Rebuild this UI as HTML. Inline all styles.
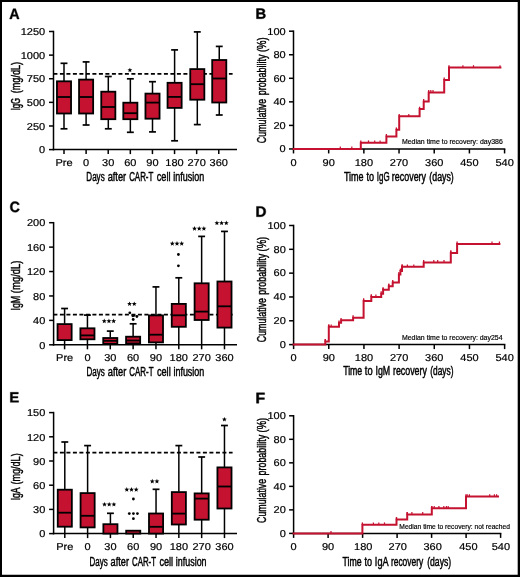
<!DOCTYPE html><html><head><meta charset="utf-8"><style>html,body{margin:0;padding:0;background:#fff}svg{display:block;will-change:transform}text{font-family:"Liberation Sans",sans-serif;fill:#000}</style></head><body>
<svg width="520" height="577" viewBox="0 0 520 577">
<rect x="0" y="0" width="520" height="577" fill="#fff"/>
<path transform="translate(9.244,19.000) scale(0.006987,-0.007310)" d="M1133 0 1008 360H471L346 0H51L565 1409H913L1425 0ZM739 1192 733 1170Q723 1134 709.0 1088.0Q695 1042 537 582H942L803 987L760 1123Z" fill="#000" stroke="#000" stroke-width="0.4" vector-effect="non-scaling-stroke"/>
<line x1="53.50" y1="30.75" x2="53.50" y2="150.35" stroke="#000" stroke-width="1.5" />
<line x1="49.00" y1="149.60" x2="53.50" y2="149.60" stroke="#000" stroke-width="1.5" />
<text transform="translate(45.20,153.30) scale(1.1,1)" font-size="10" text-anchor="end" font-weight="normal" stroke="#000" stroke-width="0.2" text-rendering="geometricPrecision">0</text>
<line x1="49.00" y1="125.98" x2="53.50" y2="125.98" stroke="#000" stroke-width="1.5" />
<text transform="translate(45.20,129.68) scale(1.1,1)" font-size="10" text-anchor="end" font-weight="normal" stroke="#000" stroke-width="0.2" text-rendering="geometricPrecision">250</text>
<line x1="49.00" y1="102.36" x2="53.50" y2="102.36" stroke="#000" stroke-width="1.5" />
<text transform="translate(45.20,106.06) scale(1.1,1)" font-size="10" text-anchor="end" font-weight="normal" stroke="#000" stroke-width="0.2" text-rendering="geometricPrecision">500</text>
<line x1="49.00" y1="78.74" x2="53.50" y2="78.74" stroke="#000" stroke-width="1.5" />
<text transform="translate(45.20,82.44) scale(1.1,1)" font-size="10" text-anchor="end" font-weight="normal" stroke="#000" stroke-width="0.2" text-rendering="geometricPrecision">750</text>
<line x1="49.00" y1="55.12" x2="53.50" y2="55.12" stroke="#000" stroke-width="1.5" />
<text transform="translate(45.20,58.82) scale(1.1,1)" font-size="10" text-anchor="end" font-weight="normal" stroke="#000" stroke-width="0.2" text-rendering="geometricPrecision">1000</text>
<line x1="49.00" y1="31.50" x2="53.50" y2="31.50" stroke="#000" stroke-width="1.5" />
<text transform="translate(45.20,35.20) scale(1.1,1)" font-size="10" text-anchor="end" font-weight="normal" stroke="#000" stroke-width="0.2" text-rendering="geometricPrecision">1250</text>
<line x1="52.75" y1="149.60" x2="237.00" y2="149.60" stroke="#000" stroke-width="1.5" />
<line x1="64.00" y1="149.60" x2="64.00" y2="154.10" stroke="#000" stroke-width="1.5" />
<text transform="translate(64.00,166.00) scale(1.1,1)" font-size="10" text-anchor="middle" font-weight="normal" stroke="#000" stroke-width="0.2" text-rendering="geometricPrecision">Pre</text>
<line x1="86.11" y1="149.60" x2="86.11" y2="154.10" stroke="#000" stroke-width="1.5" />
<text transform="translate(86.11,166.00) scale(1.1,1)" font-size="10" text-anchor="middle" font-weight="normal" stroke="#000" stroke-width="0.2" text-rendering="geometricPrecision">0</text>
<line x1="108.22" y1="149.60" x2="108.22" y2="154.10" stroke="#000" stroke-width="1.5" />
<text transform="translate(108.22,166.00) scale(1.1,1)" font-size="10" text-anchor="middle" font-weight="normal" stroke="#000" stroke-width="0.2" text-rendering="geometricPrecision">30</text>
<line x1="130.33" y1="149.60" x2="130.33" y2="154.10" stroke="#000" stroke-width="1.5" />
<text transform="translate(130.33,166.00) scale(1.1,1)" font-size="10" text-anchor="middle" font-weight="normal" stroke="#000" stroke-width="0.2" text-rendering="geometricPrecision">60</text>
<line x1="152.44" y1="149.60" x2="152.44" y2="154.10" stroke="#000" stroke-width="1.5" />
<text transform="translate(152.44,166.00) scale(1.1,1)" font-size="10" text-anchor="middle" font-weight="normal" stroke="#000" stroke-width="0.2" text-rendering="geometricPrecision">90</text>
<line x1="174.55" y1="149.60" x2="174.55" y2="154.10" stroke="#000" stroke-width="1.5" />
<text transform="translate(174.55,166.00) scale(1.1,1)" font-size="10" text-anchor="middle" font-weight="normal" stroke="#000" stroke-width="0.2" text-rendering="geometricPrecision">180</text>
<line x1="196.66" y1="149.60" x2="196.66" y2="154.10" stroke="#000" stroke-width="1.5" />
<text transform="translate(196.66,166.00) scale(1.1,1)" font-size="10" text-anchor="middle" font-weight="normal" stroke="#000" stroke-width="0.2" text-rendering="geometricPrecision">270</text>
<line x1="218.77" y1="149.60" x2="218.77" y2="154.10" stroke="#000" stroke-width="1.5" />
<text transform="translate(218.77,166.00) scale(1.1,1)" font-size="10" text-anchor="middle" font-weight="normal" stroke="#000" stroke-width="0.2" text-rendering="geometricPrecision">360</text>
<text transform="translate(19.90,110.35) rotate(-90)" font-size="12" textLength="12.40" lengthAdjust="spacingAndGlyphs" stroke="#000" stroke-width="0.45">IgG</text>
<text transform="translate(19.90,93.25) rotate(-90)" font-size="12" textLength="31.30" lengthAdjust="spacingAndGlyphs" stroke="#000" stroke-width="0.45">(mg/dL)</text>
<text x="86.35" y="180.60" font-size="12" textLength="18.30" lengthAdjust="spacingAndGlyphs" stroke="#000" stroke-width="0.45">Days</text>
<text x="107.65" y="180.60" font-size="12" textLength="18.50" lengthAdjust="spacingAndGlyphs" stroke="#000" stroke-width="0.45">after</text>
<text x="129.15" y="180.60" font-size="12" textLength="24.20" lengthAdjust="spacingAndGlyphs" stroke="#000" stroke-width="0.45">CAR-T</text>
<text x="156.75" y="180.60" font-size="12" textLength="13.80" lengthAdjust="spacingAndGlyphs" stroke="#000" stroke-width="0.45">cell</text>
<text x="173.25" y="180.60" font-size="12" textLength="30.90" lengthAdjust="spacingAndGlyphs" stroke="#000" stroke-width="0.45">infusion</text>
<line x1="53.40" y1="73.90" x2="232.60" y2="73.90" stroke="#000" stroke-width="1.7" stroke-dasharray="4 2.5"/>
<line x1="64.00" y1="63.30" x2="64.00" y2="80.90" stroke="#000" stroke-width="1.5" />
<line x1="60.55" y1="63.30" x2="67.45" y2="63.30" stroke="#000" stroke-width="1.7" />
<line x1="64.00" y1="113.50" x2="64.00" y2="128.80" stroke="#000" stroke-width="1.5" />
<line x1="60.55" y1="128.80" x2="67.45" y2="128.80" stroke="#000" stroke-width="1.7" />
<rect x="56.95" y="81.30" width="14.10" height="32.20" fill="#C41230" stroke="#000" stroke-width="1.8"/>
<line x1="56.95" y1="97.00" x2="71.05" y2="97.00" stroke="#000" stroke-width="1.8" />
<line x1="86.10" y1="61.90" x2="86.10" y2="79.20" stroke="#000" stroke-width="1.5" />
<line x1="82.65" y1="61.90" x2="89.55" y2="61.90" stroke="#000" stroke-width="1.7" />
<line x1="86.10" y1="113.50" x2="86.10" y2="125.00" stroke="#000" stroke-width="1.5" />
<line x1="82.65" y1="125.00" x2="89.55" y2="125.00" stroke="#000" stroke-width="1.7" />
<rect x="79.05" y="79.60" width="14.10" height="33.90" fill="#C41230" stroke="#000" stroke-width="1.8"/>
<line x1="79.05" y1="97.00" x2="93.15" y2="97.00" stroke="#000" stroke-width="1.8" />
<line x1="108.30" y1="76.50" x2="108.30" y2="91.30" stroke="#000" stroke-width="1.5" />
<line x1="104.85" y1="76.50" x2="111.75" y2="76.50" stroke="#000" stroke-width="1.7" />
<line x1="108.30" y1="119.20" x2="108.30" y2="128.80" stroke="#000" stroke-width="1.5" />
<line x1="104.85" y1="128.80" x2="111.75" y2="128.80" stroke="#000" stroke-width="1.7" />
<rect x="101.25" y="91.70" width="14.10" height="27.50" fill="#C41230" stroke="#000" stroke-width="1.8"/>
<line x1="101.25" y1="107.00" x2="115.35" y2="107.00" stroke="#000" stroke-width="1.8" />
<line x1="130.35" y1="78.80" x2="130.35" y2="102.30" stroke="#000" stroke-width="1.5" />
<line x1="126.90" y1="78.80" x2="133.80" y2="78.80" stroke="#000" stroke-width="1.7" />
<line x1="130.35" y1="119.20" x2="130.35" y2="132.30" stroke="#000" stroke-width="1.5" />
<line x1="126.90" y1="132.30" x2="133.80" y2="132.30" stroke="#000" stroke-width="1.7" />
<rect x="123.30" y="102.70" width="14.10" height="16.50" fill="#C41230" stroke="#000" stroke-width="1.8"/>
<line x1="123.30" y1="113.20" x2="137.40" y2="113.20" stroke="#000" stroke-width="1.8" />
<line x1="152.50" y1="81.70" x2="152.50" y2="93.20" stroke="#000" stroke-width="1.5" />
<line x1="149.05" y1="81.70" x2="155.95" y2="81.70" stroke="#000" stroke-width="1.7" />
<line x1="152.50" y1="118.70" x2="152.50" y2="131.90" stroke="#000" stroke-width="1.5" />
<line x1="149.05" y1="131.90" x2="155.95" y2="131.90" stroke="#000" stroke-width="1.7" />
<rect x="145.45" y="93.60" width="14.10" height="25.10" fill="#C41230" stroke="#000" stroke-width="1.8"/>
<line x1="145.45" y1="102.60" x2="159.55" y2="102.60" stroke="#000" stroke-width="1.8" />
<line x1="174.60" y1="49.90" x2="174.60" y2="82.40" stroke="#000" stroke-width="1.5" />
<line x1="171.15" y1="49.90" x2="178.05" y2="49.90" stroke="#000" stroke-width="1.7" />
<line x1="174.60" y1="107.90" x2="174.60" y2="140.80" stroke="#000" stroke-width="1.5" />
<line x1="171.15" y1="140.80" x2="178.05" y2="140.80" stroke="#000" stroke-width="1.7" />
<rect x="167.55" y="82.80" width="14.10" height="25.10" fill="#C41230" stroke="#000" stroke-width="1.8"/>
<line x1="167.55" y1="96.90" x2="181.65" y2="96.90" stroke="#000" stroke-width="1.8" />
<line x1="197.30" y1="31.90" x2="197.30" y2="68.70" stroke="#000" stroke-width="1.5" />
<line x1="193.85" y1="31.90" x2="200.75" y2="31.90" stroke="#000" stroke-width="1.7" />
<line x1="197.30" y1="99.70" x2="197.30" y2="124.60" stroke="#000" stroke-width="1.5" />
<line x1="193.85" y1="124.60" x2="200.75" y2="124.60" stroke="#000" stroke-width="1.7" />
<rect x="190.25" y="69.10" width="14.10" height="30.60" fill="#C41230" stroke="#000" stroke-width="1.8"/>
<line x1="190.25" y1="84.20" x2="204.35" y2="84.20" stroke="#000" stroke-width="1.8" />
<line x1="219.25" y1="46.40" x2="219.25" y2="59.60" stroke="#000" stroke-width="1.5" />
<line x1="215.80" y1="46.40" x2="222.70" y2="46.40" stroke="#000" stroke-width="1.7" />
<line x1="219.25" y1="102.50" x2="219.25" y2="115.00" stroke="#000" stroke-width="1.5" />
<line x1="215.80" y1="115.00" x2="222.70" y2="115.00" stroke="#000" stroke-width="1.7" />
<rect x="212.20" y="60.00" width="14.10" height="42.50" fill="#C41230" stroke="#000" stroke-width="1.8"/>
<line x1="212.20" y1="78.50" x2="226.30" y2="78.50" stroke="#000" stroke-width="1.8" />
<polygon points="129.90,67.70 130.55,69.36 132.33,69.46 130.95,70.59 131.40,72.31 129.90,71.35 128.40,72.31 128.85,70.59 127.47,69.46 129.25,69.36" fill="#000"/>
<path transform="translate(9.617,212.151) scale(0.006945,-0.007448)" d="M795 212Q1062 212 1166 480L1423 383Q1340 179 1179.5 79.5Q1019 -20 795 -20Q455 -20 269.5 172.5Q84 365 84 711Q84 1058 263.0 1244.0Q442 1430 782 1430Q1030 1430 1186.0 1330.5Q1342 1231 1405 1038L1145 967Q1112 1073 1015.5 1135.5Q919 1198 788 1198Q588 1198 484.5 1074.0Q381 950 381 711Q381 468 487.5 340.0Q594 212 795 212Z" fill="#000" stroke="#000" stroke-width="0.4" vector-effect="non-scaling-stroke"/>
<line x1="53.60" y1="221.95" x2="53.60" y2="345.55" stroke="#000" stroke-width="1.5" />
<line x1="49.10" y1="344.80" x2="53.60" y2="344.80" stroke="#000" stroke-width="1.5" />
<text transform="translate(45.30,348.50) scale(1.1,1)" font-size="10" text-anchor="end" font-weight="normal" stroke="#000" stroke-width="0.2" text-rendering="geometricPrecision">0</text>
<line x1="49.10" y1="320.38" x2="53.60" y2="320.38" stroke="#000" stroke-width="1.5" />
<text transform="translate(45.30,324.08) scale(1.1,1)" font-size="10" text-anchor="end" font-weight="normal" stroke="#000" stroke-width="0.2" text-rendering="geometricPrecision">40</text>
<line x1="49.10" y1="295.96" x2="53.60" y2="295.96" stroke="#000" stroke-width="1.5" />
<text transform="translate(45.30,299.66) scale(1.1,1)" font-size="10" text-anchor="end" font-weight="normal" stroke="#000" stroke-width="0.2" text-rendering="geometricPrecision">80</text>
<line x1="49.10" y1="271.54" x2="53.60" y2="271.54" stroke="#000" stroke-width="1.5" />
<text transform="translate(45.30,275.24) scale(1.1,1)" font-size="10" text-anchor="end" font-weight="normal" stroke="#000" stroke-width="0.2" text-rendering="geometricPrecision">120</text>
<line x1="49.10" y1="247.12" x2="53.60" y2="247.12" stroke="#000" stroke-width="1.5" />
<text transform="translate(45.30,250.82) scale(1.1,1)" font-size="10" text-anchor="end" font-weight="normal" stroke="#000" stroke-width="0.2" text-rendering="geometricPrecision">160</text>
<line x1="49.10" y1="222.70" x2="53.60" y2="222.70" stroke="#000" stroke-width="1.5" />
<text transform="translate(45.30,226.40) scale(1.1,1)" font-size="10" text-anchor="end" font-weight="normal" stroke="#000" stroke-width="0.2" text-rendering="geometricPrecision">200</text>
<line x1="52.85" y1="344.80" x2="237.00" y2="344.80" stroke="#000" stroke-width="1.5" />
<line x1="64.60" y1="344.80" x2="64.60" y2="349.30" stroke="#000" stroke-width="1.5" />
<text transform="translate(64.60,360.80) scale(1.1,1)" font-size="10" text-anchor="middle" font-weight="normal" stroke="#000" stroke-width="0.2" text-rendering="geometricPrecision">Pre</text>
<line x1="87.44" y1="344.80" x2="87.44" y2="349.30" stroke="#000" stroke-width="1.5" />
<text transform="translate(87.44,360.80) scale(1.1,1)" font-size="10" text-anchor="middle" font-weight="normal" stroke="#000" stroke-width="0.2" text-rendering="geometricPrecision">0</text>
<line x1="110.28" y1="344.80" x2="110.28" y2="349.30" stroke="#000" stroke-width="1.5" />
<text transform="translate(110.28,360.80) scale(1.1,1)" font-size="10" text-anchor="middle" font-weight="normal" stroke="#000" stroke-width="0.2" text-rendering="geometricPrecision">30</text>
<line x1="133.12" y1="344.80" x2="133.12" y2="349.30" stroke="#000" stroke-width="1.5" />
<text transform="translate(133.12,360.80) scale(1.1,1)" font-size="10" text-anchor="middle" font-weight="normal" stroke="#000" stroke-width="0.2" text-rendering="geometricPrecision">60</text>
<line x1="155.96" y1="344.80" x2="155.96" y2="349.30" stroke="#000" stroke-width="1.5" />
<text transform="translate(155.96,360.80) scale(1.1,1)" font-size="10" text-anchor="middle" font-weight="normal" stroke="#000" stroke-width="0.2" text-rendering="geometricPrecision">90</text>
<line x1="178.80" y1="344.80" x2="178.80" y2="349.30" stroke="#000" stroke-width="1.5" />
<text transform="translate(178.80,360.80) scale(1.1,1)" font-size="10" text-anchor="middle" font-weight="normal" stroke="#000" stroke-width="0.2" text-rendering="geometricPrecision">180</text>
<line x1="201.64" y1="344.80" x2="201.64" y2="349.30" stroke="#000" stroke-width="1.5" />
<text transform="translate(201.64,360.80) scale(1.1,1)" font-size="10" text-anchor="middle" font-weight="normal" stroke="#000" stroke-width="0.2" text-rendering="geometricPrecision">270</text>
<line x1="224.48" y1="344.80" x2="224.48" y2="349.30" stroke="#000" stroke-width="1.5" />
<text transform="translate(224.48,360.80) scale(1.1,1)" font-size="10" text-anchor="middle" font-weight="normal" stroke="#000" stroke-width="0.2" text-rendering="geometricPrecision">360</text>
<text transform="translate(19.90,310.55) rotate(-90)" font-size="12" textLength="14.80" lengthAdjust="spacingAndGlyphs" stroke="#000" stroke-width="0.45">IgM</text>
<text transform="translate(19.90,293.15) rotate(-90)" font-size="12" textLength="32.60" lengthAdjust="spacingAndGlyphs" stroke="#000" stroke-width="0.45">(mg/dL)</text>
<text x="86.45" y="376.30" font-size="12" textLength="18.32" lengthAdjust="spacingAndGlyphs" stroke="#000" stroke-width="0.45">Days</text>
<text x="107.77" y="376.30" font-size="12" textLength="18.52" lengthAdjust="spacingAndGlyphs" stroke="#000" stroke-width="0.45">after</text>
<text x="129.29" y="376.30" font-size="12" textLength="24.22" lengthAdjust="spacingAndGlyphs" stroke="#000" stroke-width="0.45">CAR-T</text>
<text x="156.91" y="376.30" font-size="12" textLength="13.81" lengthAdjust="spacingAndGlyphs" stroke="#000" stroke-width="0.45">cell</text>
<text x="173.42" y="376.30" font-size="12" textLength="30.93" lengthAdjust="spacingAndGlyphs" stroke="#000" stroke-width="0.45">infusion</text>
<line x1="53.40" y1="314.60" x2="232.60" y2="314.60" stroke="#000" stroke-width="1.7" stroke-dasharray="4 2.5"/>
<line x1="64.60" y1="308.50" x2="64.60" y2="323.70" stroke="#000" stroke-width="1.5" />
<line x1="61.15" y1="308.50" x2="68.05" y2="308.50" stroke="#000" stroke-width="1.7" />
<line x1="64.60" y1="340.10" x2="64.60" y2="344.80" stroke="#000" stroke-width="1.5" />
<rect x="57.55" y="324.10" width="14.10" height="16.00" fill="#C41230" stroke="#000" stroke-width="1.8"/>
<line x1="87.44" y1="315.10" x2="87.44" y2="327.90" stroke="#000" stroke-width="1.5" />
<line x1="83.99" y1="315.10" x2="90.89" y2="315.10" stroke="#000" stroke-width="1.7" />
<line x1="87.44" y1="339.30" x2="87.44" y2="344.80" stroke="#000" stroke-width="1.5" />
<rect x="80.39" y="328.30" width="14.10" height="11.00" fill="#C41230" stroke="#000" stroke-width="1.8"/>
<line x1="80.39" y1="335.40" x2="94.49" y2="335.40" stroke="#000" stroke-width="1.8" />
<line x1="110.28" y1="331.10" x2="110.28" y2="337.60" stroke="#000" stroke-width="1.5" />
<line x1="106.83" y1="331.10" x2="113.73" y2="331.10" stroke="#000" stroke-width="1.7" />
<rect x="103.23" y="338.00" width="14.10" height="5.90" fill="#C41230" stroke="#000" stroke-width="1.8"/>
<line x1="103.23" y1="340.80" x2="117.33" y2="340.80" stroke="#000" stroke-width="1.8" />
<line x1="133.12" y1="323.80" x2="133.12" y2="336.30" stroke="#000" stroke-width="1.5" />
<line x1="129.67" y1="323.80" x2="136.57" y2="323.80" stroke="#000" stroke-width="1.7" />
<rect x="126.07" y="336.70" width="14.10" height="6.80" fill="#C41230" stroke="#000" stroke-width="1.8"/>
<line x1="126.07" y1="340.50" x2="140.17" y2="340.50" stroke="#000" stroke-width="1.8" />
<line x1="155.96" y1="286.90" x2="155.96" y2="315.00" stroke="#000" stroke-width="1.5" />
<line x1="152.51" y1="286.90" x2="159.41" y2="286.90" stroke="#000" stroke-width="1.7" />
<line x1="155.96" y1="342.40" x2="155.96" y2="344.80" stroke="#000" stroke-width="1.5" />
<rect x="148.91" y="315.40" width="14.10" height="27.00" fill="#C41230" stroke="#000" stroke-width="1.8"/>
<line x1="148.91" y1="334.70" x2="163.01" y2="334.70" stroke="#000" stroke-width="1.8" />
<line x1="178.80" y1="277.80" x2="178.80" y2="303.50" stroke="#000" stroke-width="1.5" />
<line x1="175.35" y1="277.80" x2="182.25" y2="277.80" stroke="#000" stroke-width="1.7" />
<line x1="178.80" y1="326.80" x2="178.80" y2="344.80" stroke="#000" stroke-width="1.5" />
<rect x="171.75" y="303.90" width="14.10" height="22.90" fill="#C41230" stroke="#000" stroke-width="1.8"/>
<line x1="171.75" y1="315.30" x2="185.85" y2="315.30" stroke="#000" stroke-width="1.8" />
<line x1="201.64" y1="236.40" x2="201.64" y2="282.90" stroke="#000" stroke-width="1.5" />
<line x1="198.19" y1="236.40" x2="205.09" y2="236.40" stroke="#000" stroke-width="1.7" />
<line x1="201.64" y1="320.00" x2="201.64" y2="344.80" stroke="#000" stroke-width="1.5" />
<rect x="194.59" y="283.30" width="14.10" height="36.70" fill="#C41230" stroke="#000" stroke-width="1.8"/>
<line x1="194.59" y1="311.60" x2="208.69" y2="311.60" stroke="#000" stroke-width="1.8" />
<line x1="224.48" y1="231.40" x2="224.48" y2="281.10" stroke="#000" stroke-width="1.5" />
<line x1="221.03" y1="231.40" x2="227.93" y2="231.40" stroke="#000" stroke-width="1.7" />
<line x1="224.48" y1="327.60" x2="224.48" y2="344.80" stroke="#000" stroke-width="1.5" />
<rect x="217.43" y="281.50" width="14.10" height="46.10" fill="#C41230" stroke="#000" stroke-width="1.8"/>
<line x1="217.43" y1="306.30" x2="231.53" y2="306.30" stroke="#000" stroke-width="1.8" />
<polygon points="104.25,318.60 104.90,320.26 106.68,320.36 105.30,321.49 105.75,323.21 104.25,322.25 102.75,323.21 103.20,321.49 101.82,320.36 103.60,320.26" fill="#000"/>
<polygon points="108.95,318.60 109.60,320.26 111.38,320.36 110.00,321.49 110.45,323.21 108.95,322.25 107.45,323.21 107.90,321.49 106.52,320.36 108.30,320.26" fill="#000"/>
<polygon points="113.65,318.60 114.30,320.26 116.08,320.36 114.70,321.49 115.15,323.21 113.65,322.25 112.15,323.21 112.60,321.49 111.22,320.36 113.00,320.26" fill="#000"/>
<polygon points="129.55,301.40 130.20,303.06 131.98,303.16 130.60,304.29 131.05,306.01 129.55,305.05 128.05,306.01 128.50,304.29 127.12,303.16 128.90,303.06" fill="#000"/>
<polygon points="134.25,301.40 134.90,303.06 136.68,303.16 135.30,304.29 135.75,306.01 134.25,305.05 132.75,306.01 133.20,304.29 131.82,303.16 133.60,303.06" fill="#000"/>
<polygon points="172.30,241.10 172.95,242.76 174.73,242.86 173.35,243.99 173.80,245.71 172.30,244.75 170.80,245.71 171.25,243.99 169.87,242.86 171.65,242.76" fill="#000"/>
<polygon points="177.00,241.10 177.65,242.76 179.43,242.86 178.05,243.99 178.50,245.71 177.00,244.75 175.50,245.71 175.95,243.99 174.57,242.86 176.35,242.76" fill="#000"/>
<polygon points="181.70,241.10 182.35,242.76 184.13,242.86 182.75,243.99 183.20,245.71 181.70,244.75 180.20,245.71 180.65,243.99 179.27,242.86 181.05,242.76" fill="#000"/>
<polygon points="194.50,226.10 195.15,227.76 196.93,227.86 195.55,228.99 196.00,230.71 194.50,229.75 193.00,230.71 193.45,228.99 192.07,227.86 193.85,227.76" fill="#000"/>
<polygon points="199.20,226.10 199.85,227.76 201.63,227.86 200.25,228.99 200.70,230.71 199.20,229.75 197.70,230.71 198.15,228.99 196.77,227.86 198.55,227.76" fill="#000"/>
<polygon points="203.90,226.10 204.55,227.76 206.33,227.86 204.95,228.99 205.40,230.71 203.90,229.75 202.40,230.71 202.85,228.99 201.47,227.86 203.25,227.76" fill="#000"/>
<polygon points="216.90,220.50 217.55,222.16 219.33,222.26 217.95,223.39 218.40,225.11 216.90,224.15 215.40,225.11 215.85,223.39 214.47,222.26 216.25,222.16" fill="#000"/>
<polygon points="221.60,220.50 222.25,222.16 224.03,222.26 222.65,223.39 223.10,225.11 221.60,224.15 220.10,225.11 220.55,223.39 219.17,222.26 220.95,222.16" fill="#000"/>
<polygon points="226.30,220.50 226.95,222.16 228.73,222.26 227.35,223.39 227.80,225.11 226.30,224.15 224.80,225.11 225.25,223.39 223.87,222.26 225.65,222.16" fill="#000"/>
<circle cx="129.80" cy="312.80" r="1.4" fill="#000"/>
<circle cx="132.80" cy="315.80" r="1.4" fill="#000"/>
<circle cx="134.00" cy="315.40" r="1.4" fill="#000"/>
<circle cx="136.90" cy="316.50" r="1.4" fill="#000"/>
<circle cx="133.20" cy="319.50" r="1.4" fill="#000"/>
<circle cx="178.40" cy="254.50" r="1.4" fill="#000"/>
<circle cx="178.40" cy="265.80" r="1.4" fill="#000"/>
<path transform="translate(9.366,402.300) scale(0.007180,-0.007097)" d="M137 0V1409H1245V1181H432V827H1184V599H432V228H1286V0Z" fill="#000" stroke="#000" stroke-width="0.4" vector-effect="non-scaling-stroke"/>
<line x1="53.60" y1="411.85" x2="53.60" y2="534.35" stroke="#000" stroke-width="1.5" />
<line x1="49.10" y1="533.60" x2="53.60" y2="533.60" stroke="#000" stroke-width="1.5" />
<text transform="translate(45.30,537.30) scale(1.1,1)" font-size="10" text-anchor="end" font-weight="normal" stroke="#000" stroke-width="0.2" text-rendering="geometricPrecision">0</text>
<line x1="49.10" y1="509.40" x2="53.60" y2="509.40" stroke="#000" stroke-width="1.5" />
<text transform="translate(45.30,513.10) scale(1.1,1)" font-size="10" text-anchor="end" font-weight="normal" stroke="#000" stroke-width="0.2" text-rendering="geometricPrecision">30</text>
<line x1="49.10" y1="485.20" x2="53.60" y2="485.20" stroke="#000" stroke-width="1.5" />
<text transform="translate(45.30,488.90) scale(1.1,1)" font-size="10" text-anchor="end" font-weight="normal" stroke="#000" stroke-width="0.2" text-rendering="geometricPrecision">60</text>
<line x1="49.10" y1="461.00" x2="53.60" y2="461.00" stroke="#000" stroke-width="1.5" />
<text transform="translate(45.30,464.70) scale(1.1,1)" font-size="10" text-anchor="end" font-weight="normal" stroke="#000" stroke-width="0.2" text-rendering="geometricPrecision">90</text>
<line x1="49.10" y1="436.80" x2="53.60" y2="436.80" stroke="#000" stroke-width="1.5" />
<text transform="translate(45.30,440.50) scale(1.1,1)" font-size="10" text-anchor="end" font-weight="normal" stroke="#000" stroke-width="0.2" text-rendering="geometricPrecision">120</text>
<line x1="49.10" y1="412.60" x2="53.60" y2="412.60" stroke="#000" stroke-width="1.5" />
<text transform="translate(45.30,416.30) scale(1.1,1)" font-size="10" text-anchor="end" font-weight="normal" stroke="#000" stroke-width="0.2" text-rendering="geometricPrecision">150</text>
<line x1="52.85" y1="533.60" x2="237.00" y2="533.60" stroke="#000" stroke-width="1.5" />
<line x1="64.80" y1="533.60" x2="64.80" y2="538.10" stroke="#000" stroke-width="1.5" />
<text transform="translate(64.80,549.90) scale(1.1,1)" font-size="10" text-anchor="middle" font-weight="normal" stroke="#000" stroke-width="0.2" text-rendering="geometricPrecision">Pre</text>
<line x1="87.61" y1="533.60" x2="87.61" y2="538.10" stroke="#000" stroke-width="1.5" />
<text transform="translate(87.61,549.90) scale(1.1,1)" font-size="10" text-anchor="middle" font-weight="normal" stroke="#000" stroke-width="0.2" text-rendering="geometricPrecision">0</text>
<line x1="110.42" y1="533.60" x2="110.42" y2="538.10" stroke="#000" stroke-width="1.5" />
<text transform="translate(110.42,549.90) scale(1.1,1)" font-size="10" text-anchor="middle" font-weight="normal" stroke="#000" stroke-width="0.2" text-rendering="geometricPrecision">30</text>
<line x1="133.23" y1="533.60" x2="133.23" y2="538.10" stroke="#000" stroke-width="1.5" />
<text transform="translate(133.23,549.90) scale(1.1,1)" font-size="10" text-anchor="middle" font-weight="normal" stroke="#000" stroke-width="0.2" text-rendering="geometricPrecision">60</text>
<line x1="156.04" y1="533.60" x2="156.04" y2="538.10" stroke="#000" stroke-width="1.5" />
<text transform="translate(156.04,549.90) scale(1.1,1)" font-size="10" text-anchor="middle" font-weight="normal" stroke="#000" stroke-width="0.2" text-rendering="geometricPrecision">90</text>
<line x1="178.85" y1="533.60" x2="178.85" y2="538.10" stroke="#000" stroke-width="1.5" />
<text transform="translate(178.85,549.90) scale(1.1,1)" font-size="10" text-anchor="middle" font-weight="normal" stroke="#000" stroke-width="0.2" text-rendering="geometricPrecision">180</text>
<line x1="201.66" y1="533.60" x2="201.66" y2="538.10" stroke="#000" stroke-width="1.5" />
<text transform="translate(201.66,549.90) scale(1.1,1)" font-size="10" text-anchor="middle" font-weight="normal" stroke="#000" stroke-width="0.2" text-rendering="geometricPrecision">270</text>
<line x1="224.47" y1="533.60" x2="224.47" y2="538.10" stroke="#000" stroke-width="1.5" />
<text transform="translate(224.47,549.90) scale(1.1,1)" font-size="10" text-anchor="middle" font-weight="normal" stroke="#000" stroke-width="0.2" text-rendering="geometricPrecision">360</text>
<text transform="translate(19.90,500.35) rotate(-90)" font-size="12" textLength="12.90" lengthAdjust="spacingAndGlyphs" stroke="#000" stroke-width="0.45">IgA</text>
<text transform="translate(19.90,484.45) rotate(-90)" font-size="12" textLength="31.10" lengthAdjust="spacingAndGlyphs" stroke="#000" stroke-width="0.45">(mg/dL)</text>
<text x="89.45" y="566.20" font-size="12" textLength="18.19" lengthAdjust="spacingAndGlyphs" stroke="#000" stroke-width="0.45">Days</text>
<text x="110.62" y="566.20" font-size="12" textLength="18.39" lengthAdjust="spacingAndGlyphs" stroke="#000" stroke-width="0.45">after</text>
<text x="131.99" y="566.20" font-size="12" textLength="24.06" lengthAdjust="spacingAndGlyphs" stroke="#000" stroke-width="0.45">CAR-T</text>
<text x="159.43" y="566.20" font-size="12" textLength="13.72" lengthAdjust="spacingAndGlyphs" stroke="#000" stroke-width="0.45">cell</text>
<text x="175.83" y="566.20" font-size="12" textLength="30.72" lengthAdjust="spacingAndGlyphs" stroke="#000" stroke-width="0.45">infusion</text>
<line x1="53.40" y1="452.70" x2="232.60" y2="452.70" stroke="#000" stroke-width="1.7" stroke-dasharray="4 2.5"/>
<line x1="64.80" y1="442.00" x2="64.80" y2="489.30" stroke="#000" stroke-width="1.5" />
<line x1="61.35" y1="442.00" x2="68.25" y2="442.00" stroke="#000" stroke-width="1.7" />
<line x1="64.80" y1="526.70" x2="64.80" y2="533.60" stroke="#000" stroke-width="1.5" />
<rect x="57.75" y="489.70" width="14.10" height="37.00" fill="#C41230" stroke="#000" stroke-width="1.8"/>
<line x1="57.75" y1="512.70" x2="71.85" y2="512.70" stroke="#000" stroke-width="1.8" />
<line x1="87.61" y1="445.60" x2="87.61" y2="492.70" stroke="#000" stroke-width="1.5" />
<line x1="84.16" y1="445.60" x2="91.06" y2="445.60" stroke="#000" stroke-width="1.7" />
<line x1="87.61" y1="527.40" x2="87.61" y2="533.60" stroke="#000" stroke-width="1.5" />
<rect x="80.56" y="493.10" width="14.10" height="34.30" fill="#C41230" stroke="#000" stroke-width="1.8"/>
<line x1="80.56" y1="515.80" x2="94.66" y2="515.80" stroke="#000" stroke-width="1.8" />
<line x1="110.42" y1="513.30" x2="110.42" y2="523.80" stroke="#000" stroke-width="1.5" />
<line x1="106.97" y1="513.30" x2="113.87" y2="513.30" stroke="#000" stroke-width="1.7" />
<rect x="103.37" y="524.20" width="14.10" height="9.40" fill="#C41230" stroke="#000" stroke-width="1.8"/>
<rect x="126.18" y="530.70" width="14.10" height="2.90" fill="#C41230" stroke="#000" stroke-width="1.8"/>
<line x1="156.04" y1="489.30" x2="156.04" y2="513.10" stroke="#000" stroke-width="1.5" />
<line x1="152.59" y1="489.30" x2="159.49" y2="489.30" stroke="#000" stroke-width="1.7" />
<rect x="148.99" y="513.50" width="14.10" height="20.10" fill="#C41230" stroke="#000" stroke-width="1.8"/>
<line x1="148.99" y1="526.80" x2="163.09" y2="526.80" stroke="#000" stroke-width="1.8" />
<line x1="178.85" y1="445.60" x2="178.85" y2="491.70" stroke="#000" stroke-width="1.5" />
<line x1="175.40" y1="445.60" x2="182.30" y2="445.60" stroke="#000" stroke-width="1.7" />
<line x1="178.85" y1="524.50" x2="178.85" y2="533.60" stroke="#000" stroke-width="1.5" />
<rect x="171.80" y="492.10" width="14.10" height="32.40" fill="#C41230" stroke="#000" stroke-width="1.8"/>
<line x1="171.80" y1="513.60" x2="185.90" y2="513.60" stroke="#000" stroke-width="1.8" />
<line x1="201.66" y1="457.00" x2="201.66" y2="493.00" stroke="#000" stroke-width="1.5" />
<line x1="198.21" y1="457.00" x2="205.11" y2="457.00" stroke="#000" stroke-width="1.7" />
<line x1="201.66" y1="519.70" x2="201.66" y2="533.60" stroke="#000" stroke-width="1.5" />
<rect x="194.61" y="493.40" width="14.10" height="26.30" fill="#C41230" stroke="#000" stroke-width="1.8"/>
<line x1="194.61" y1="498.60" x2="208.71" y2="498.60" stroke="#000" stroke-width="1.8" />
<line x1="224.47" y1="425.50" x2="224.47" y2="467.00" stroke="#000" stroke-width="1.5" />
<line x1="221.02" y1="425.50" x2="227.92" y2="425.50" stroke="#000" stroke-width="1.7" />
<line x1="224.47" y1="508.50" x2="224.47" y2="533.60" stroke="#000" stroke-width="1.5" />
<rect x="217.42" y="467.40" width="14.10" height="41.10" fill="#C41230" stroke="#000" stroke-width="1.8"/>
<line x1="217.42" y1="486.50" x2="231.52" y2="486.50" stroke="#000" stroke-width="1.8" />
<polygon points="104.50,501.90 105.15,503.56 106.93,503.66 105.55,504.79 106.00,506.51 104.50,505.55 103.00,506.51 103.45,504.79 102.07,503.66 103.85,503.56" fill="#000"/>
<polygon points="109.20,501.90 109.85,503.56 111.63,503.66 110.25,504.79 110.70,506.51 109.20,505.55 107.70,506.51 108.15,504.79 106.77,503.66 108.55,503.56" fill="#000"/>
<polygon points="113.90,501.90 114.55,503.56 116.33,503.66 114.95,504.79 115.40,506.51 113.90,505.55 112.40,506.51 112.85,504.79 111.47,503.66 113.25,503.56" fill="#000"/>
<polygon points="126.80,487.10 127.45,488.76 129.23,488.86 127.85,489.99 128.30,491.71 126.80,490.75 125.30,491.71 125.75,489.99 124.37,488.86 126.15,488.76" fill="#000"/>
<polygon points="131.50,487.10 132.15,488.76 133.93,488.86 132.55,489.99 133.00,491.71 131.50,490.75 130.00,491.71 130.45,489.99 129.07,488.86 130.85,488.76" fill="#000"/>
<polygon points="136.20,487.10 136.85,488.76 138.63,488.86 137.25,489.99 137.70,491.71 136.20,490.75 134.70,491.71 135.15,489.99 133.77,488.86 135.55,488.76" fill="#000"/>
<polygon points="152.25,478.80 152.90,480.46 154.68,480.56 153.30,481.69 153.75,483.41 152.25,482.45 150.75,483.41 151.20,481.69 149.82,480.56 151.60,480.46" fill="#000"/>
<polygon points="156.95,478.80 157.60,480.46 159.38,480.56 158.00,481.69 158.45,483.41 156.95,482.45 155.45,483.41 155.90,481.69 154.52,480.56 156.30,480.46" fill="#000"/>
<polygon points="224.40,416.90 225.05,418.56 226.83,418.66 225.45,419.79 225.90,421.51 224.40,420.55 222.90,421.51 223.35,419.79 221.97,418.66 223.75,418.56" fill="#000"/>
<circle cx="133.40" cy="499.00" r="1.4" fill="#000"/>
<circle cx="129.30" cy="513.60" r="1.4" fill="#000"/>
<circle cx="133.40" cy="513.60" r="1.4" fill="#000"/>
<circle cx="137.40" cy="513.60" r="1.4" fill="#000"/>
<circle cx="133.40" cy="518.70" r="1.4" fill="#000"/>
<path transform="translate(255.513,18.700) scale(0.007206,-0.007239)" d="M1386 402Q1386 210 1242.0 105.0Q1098 0 842 0H137V1409H782Q1040 1409 1172.5 1319.5Q1305 1230 1305 1055Q1305 935 1238.5 852.5Q1172 770 1036 741Q1207 721 1296.5 633.5Q1386 546 1386 402ZM1008 1015Q1008 1110 947.5 1150.0Q887 1190 768 1190H432V841H770Q895 841 951.5 884.5Q1008 928 1008 1015ZM1090 425Q1090 623 806 623H432V219H817Q959 219 1024.5 270.5Q1090 322 1090 425Z" fill="#000" stroke="#000" stroke-width="0.4" vector-effect="non-scaling-stroke"/>
<line x1="293.50" y1="30.45" x2="293.50" y2="149.70" stroke="#000" stroke-width="1.5" />
<line x1="289.00" y1="148.95" x2="293.50" y2="148.95" stroke="#000" stroke-width="1.5" />
<text transform="translate(285.70,152.25) scale(1.1,1)" font-size="10" text-anchor="end" font-weight="normal" stroke="#000" stroke-width="0.2" text-rendering="geometricPrecision">0</text>
<line x1="289.00" y1="125.40" x2="293.50" y2="125.40" stroke="#000" stroke-width="1.5" />
<text transform="translate(285.70,128.70) scale(1.1,1)" font-size="10" text-anchor="end" font-weight="normal" stroke="#000" stroke-width="0.2" text-rendering="geometricPrecision">20</text>
<line x1="289.00" y1="101.85" x2="293.50" y2="101.85" stroke="#000" stroke-width="1.5" />
<text transform="translate(285.70,105.15) scale(1.1,1)" font-size="10" text-anchor="end" font-weight="normal" stroke="#000" stroke-width="0.2" text-rendering="geometricPrecision">40</text>
<line x1="289.00" y1="78.30" x2="293.50" y2="78.30" stroke="#000" stroke-width="1.5" />
<text transform="translate(285.70,81.60) scale(1.1,1)" font-size="10" text-anchor="end" font-weight="normal" stroke="#000" stroke-width="0.2" text-rendering="geometricPrecision">60</text>
<line x1="289.00" y1="54.75" x2="293.50" y2="54.75" stroke="#000" stroke-width="1.5" />
<text transform="translate(285.70,58.05) scale(1.1,1)" font-size="10" text-anchor="end" font-weight="normal" stroke="#000" stroke-width="0.2" text-rendering="geometricPrecision">80</text>
<line x1="289.00" y1="31.20" x2="293.50" y2="31.20" stroke="#000" stroke-width="1.5" />
<text transform="translate(285.70,34.50) scale(1.1,1)" font-size="10" text-anchor="end" font-weight="normal" stroke="#000" stroke-width="0.2" text-rendering="geometricPrecision">100</text>
<line x1="292.75" y1="148.95" x2="505.33" y2="148.95" stroke="#000" stroke-width="1.5" />
<line x1="293.50" y1="148.95" x2="293.50" y2="153.45" stroke="#000" stroke-width="1.5" />
<text transform="translate(293.50,165.70) scale(1.1,1)" font-size="10" text-anchor="middle" font-weight="normal" stroke="#000" stroke-width="0.2" text-rendering="geometricPrecision">0</text>
<line x1="328.68" y1="148.95" x2="328.68" y2="153.45" stroke="#000" stroke-width="1.5" />
<text transform="translate(328.68,165.70) scale(1.1,1)" font-size="10" text-anchor="middle" font-weight="normal" stroke="#000" stroke-width="0.2" text-rendering="geometricPrecision">90</text>
<line x1="363.86" y1="148.95" x2="363.86" y2="153.45" stroke="#000" stroke-width="1.5" />
<text transform="translate(363.86,165.70) scale(1.1,1)" font-size="10" text-anchor="middle" font-weight="normal" stroke="#000" stroke-width="0.2" text-rendering="geometricPrecision">180</text>
<line x1="399.04" y1="148.95" x2="399.04" y2="153.45" stroke="#000" stroke-width="1.5" />
<text transform="translate(399.04,165.70) scale(1.1,1)" font-size="10" text-anchor="middle" font-weight="normal" stroke="#000" stroke-width="0.2" text-rendering="geometricPrecision">270</text>
<line x1="434.22" y1="148.95" x2="434.22" y2="153.45" stroke="#000" stroke-width="1.5" />
<text transform="translate(434.22,165.70) scale(1.1,1)" font-size="10" text-anchor="middle" font-weight="normal" stroke="#000" stroke-width="0.2" text-rendering="geometricPrecision">360</text>
<line x1="469.40" y1="148.95" x2="469.40" y2="153.45" stroke="#000" stroke-width="1.5" />
<text transform="translate(469.40,165.70) scale(1.1,1)" font-size="10" text-anchor="middle" font-weight="normal" stroke="#000" stroke-width="0.2" text-rendering="geometricPrecision">450</text>
<line x1="504.58" y1="148.95" x2="504.58" y2="153.45" stroke="#000" stroke-width="1.5" />
<text transform="translate(504.58,165.70) scale(1.1,1)" font-size="10" text-anchor="middle" font-weight="normal" stroke="#000" stroke-width="0.2" text-rendering="geometricPrecision">540</text>
<text transform="translate(265.60,143.15) rotate(-90)" font-size="12.5" textLength="44.40" lengthAdjust="spacingAndGlyphs" stroke="#000" stroke-width="0.45">Cumulative</text>
<text transform="translate(265.60,95.35) rotate(-90)" font-size="12.5" textLength="40.90" lengthAdjust="spacingAndGlyphs" stroke="#000" stroke-width="0.45">probability</text>
<text transform="translate(265.60,52.05) rotate(-90)" font-size="12.5" textLength="14.80" lengthAdjust="spacingAndGlyphs" stroke="#000" stroke-width="0.45">(%)</text>
<text x="343.95" y="181.00" font-size="12" textLength="19.70" lengthAdjust="spacingAndGlyphs" stroke="#000" stroke-width="0.45">Time</text>
<text x="366.45" y="181.00" font-size="12" textLength="7.60" lengthAdjust="spacingAndGlyphs" stroke="#000" stroke-width="0.45">to</text>
<text x="376.85" y="181.00" font-size="12" textLength="12.80" lengthAdjust="spacingAndGlyphs" stroke="#000" stroke-width="0.45">IgG</text>
<text x="391.85" y="181.00" font-size="12" textLength="34.20" lengthAdjust="spacingAndGlyphs" stroke="#000" stroke-width="0.45">recovery</text>
<text x="429.35" y="181.00" font-size="12" textLength="24.40" lengthAdjust="spacingAndGlyphs" stroke="#000" stroke-width="0.45">(days)</text>
<text x="401.90" y="143.50" font-size="7" textLength="100.90" lengthAdjust="spacingAndGlyphs" stroke="#000" stroke-width="0.18">Median time to recovery: day386</text>
<path d="M293.50,148.95 L360.80,148.95 L360.80,142.80 L386.40,142.80 L386.40,136.40 L396.40,136.40 L396.40,129.80 L399.20,129.80 L399.20,116.30 L419.60,116.30 L419.60,109.10 L423.70,109.10 L423.70,101.50 L428.70,101.50 L428.70,92.50 L444.20,92.50 L444.20,80.00 L449.00,80.00 L449.00,67.60 L500.40,67.60 L500.40,67.60" fill="none" stroke="#C41230" stroke-width="2" stroke-linejoin="miter" stroke-linecap="square"/>
<line x1="360.80" y1="142.80" x2="360.80" y2="140.40" stroke="#C41230" stroke-width="1.3" />
<line x1="386.40" y1="136.40" x2="386.40" y2="134.00" stroke="#C41230" stroke-width="1.3" />
<line x1="396.40" y1="129.80" x2="396.40" y2="127.40" stroke="#C41230" stroke-width="1.3" />
<line x1="399.20" y1="116.30" x2="399.20" y2="113.90" stroke="#C41230" stroke-width="1.3" />
<line x1="419.60" y1="109.10" x2="419.60" y2="106.70" stroke="#C41230" stroke-width="1.3" />
<line x1="423.70" y1="101.50" x2="423.70" y2="99.10" stroke="#C41230" stroke-width="1.3" />
<line x1="428.70" y1="92.50" x2="428.70" y2="90.10" stroke="#C41230" stroke-width="1.3" />
<line x1="444.20" y1="80.00" x2="444.20" y2="77.60" stroke="#C41230" stroke-width="1.3" />
<line x1="449.00" y1="67.60" x2="449.00" y2="65.20" stroke="#C41230" stroke-width="1.3" />
<line x1="340.30" y1="148.95" x2="340.30" y2="146.55" stroke="#C41230" stroke-width="1.2" />
<line x1="351.80" y1="148.95" x2="351.80" y2="146.55" stroke="#C41230" stroke-width="1.2" />
<line x1="368.50" y1="142.80" x2="368.50" y2="140.40" stroke="#C41230" stroke-width="1.2" />
<line x1="374.70" y1="142.80" x2="374.70" y2="140.40" stroke="#C41230" stroke-width="1.2" />
<line x1="380.10" y1="142.80" x2="380.10" y2="140.40" stroke="#C41230" stroke-width="1.2" />
<line x1="408.80" y1="116.30" x2="408.80" y2="113.90" stroke="#C41230" stroke-width="1.2" />
<line x1="430.80" y1="92.50" x2="430.80" y2="90.10" stroke="#C41230" stroke-width="1.2" />
<line x1="433.00" y1="92.50" x2="433.00" y2="90.10" stroke="#C41230" stroke-width="1.2" />
<line x1="462.90" y1="67.60" x2="462.90" y2="65.20" stroke="#C41230" stroke-width="1.2" />
<line x1="473.50" y1="67.60" x2="473.50" y2="65.20" stroke="#C41230" stroke-width="1.2" />
<line x1="500.00" y1="67.60" x2="500.00" y2="65.20" stroke="#C41230" stroke-width="1.2" />
<path transform="translate(255.486,216.700) scale(0.007404,-0.007310)" d="M1393 715Q1393 497 1307.5 334.5Q1222 172 1065.5 86.0Q909 0 707 0H137V1409H647Q1003 1409 1198.0 1229.5Q1393 1050 1393 715ZM1096 715Q1096 942 978.0 1061.5Q860 1181 641 1181H432V228H682Q872 228 984.0 359.0Q1096 490 1096 715Z" fill="#000" stroke="#000" stroke-width="0.4" vector-effect="non-scaling-stroke"/>
<line x1="293.60" y1="224.75" x2="293.60" y2="345.35" stroke="#000" stroke-width="1.5" />
<line x1="289.10" y1="344.60" x2="293.60" y2="344.60" stroke="#000" stroke-width="1.5" />
<text transform="translate(285.80,347.90) scale(1.1,1)" font-size="10" text-anchor="end" font-weight="normal" stroke="#000" stroke-width="0.2" text-rendering="geometricPrecision">0</text>
<line x1="289.10" y1="320.78" x2="293.60" y2="320.78" stroke="#000" stroke-width="1.5" />
<text transform="translate(285.80,324.08) scale(1.1,1)" font-size="10" text-anchor="end" font-weight="normal" stroke="#000" stroke-width="0.2" text-rendering="geometricPrecision">20</text>
<line x1="289.10" y1="296.96" x2="293.60" y2="296.96" stroke="#000" stroke-width="1.5" />
<text transform="translate(285.80,300.26) scale(1.1,1)" font-size="10" text-anchor="end" font-weight="normal" stroke="#000" stroke-width="0.2" text-rendering="geometricPrecision">40</text>
<line x1="289.10" y1="273.14" x2="293.60" y2="273.14" stroke="#000" stroke-width="1.5" />
<text transform="translate(285.80,276.44) scale(1.1,1)" font-size="10" text-anchor="end" font-weight="normal" stroke="#000" stroke-width="0.2" text-rendering="geometricPrecision">60</text>
<line x1="289.10" y1="249.32" x2="293.60" y2="249.32" stroke="#000" stroke-width="1.5" />
<text transform="translate(285.80,252.62) scale(1.1,1)" font-size="10" text-anchor="end" font-weight="normal" stroke="#000" stroke-width="0.2" text-rendering="geometricPrecision">80</text>
<line x1="289.10" y1="225.50" x2="293.60" y2="225.50" stroke="#000" stroke-width="1.5" />
<text transform="translate(285.80,228.80) scale(1.1,1)" font-size="10" text-anchor="end" font-weight="normal" stroke="#000" stroke-width="0.2" text-rendering="geometricPrecision">100</text>
<line x1="292.85" y1="344.60" x2="505.37" y2="344.60" stroke="#000" stroke-width="1.5" />
<line x1="293.60" y1="344.60" x2="293.60" y2="349.10" stroke="#000" stroke-width="1.5" />
<text transform="translate(293.60,360.80) scale(1.1,1)" font-size="10" text-anchor="middle" font-weight="normal" stroke="#000" stroke-width="0.2" text-rendering="geometricPrecision">0</text>
<line x1="328.77" y1="344.60" x2="328.77" y2="349.10" stroke="#000" stroke-width="1.5" />
<text transform="translate(328.77,360.80) scale(1.1,1)" font-size="10" text-anchor="middle" font-weight="normal" stroke="#000" stroke-width="0.2" text-rendering="geometricPrecision">90</text>
<line x1="363.94" y1="344.60" x2="363.94" y2="349.10" stroke="#000" stroke-width="1.5" />
<text transform="translate(363.94,360.80) scale(1.1,1)" font-size="10" text-anchor="middle" font-weight="normal" stroke="#000" stroke-width="0.2" text-rendering="geometricPrecision">180</text>
<line x1="399.11" y1="344.60" x2="399.11" y2="349.10" stroke="#000" stroke-width="1.5" />
<text transform="translate(399.11,360.80) scale(1.1,1)" font-size="10" text-anchor="middle" font-weight="normal" stroke="#000" stroke-width="0.2" text-rendering="geometricPrecision">270</text>
<line x1="434.28" y1="344.60" x2="434.28" y2="349.10" stroke="#000" stroke-width="1.5" />
<text transform="translate(434.28,360.80) scale(1.1,1)" font-size="10" text-anchor="middle" font-weight="normal" stroke="#000" stroke-width="0.2" text-rendering="geometricPrecision">360</text>
<line x1="469.45" y1="344.60" x2="469.45" y2="349.10" stroke="#000" stroke-width="1.5" />
<text transform="translate(469.45,360.80) scale(1.1,1)" font-size="10" text-anchor="middle" font-weight="normal" stroke="#000" stroke-width="0.2" text-rendering="geometricPrecision">450</text>
<line x1="504.62" y1="344.60" x2="504.62" y2="349.10" stroke="#000" stroke-width="1.5" />
<text transform="translate(504.62,360.80) scale(1.1,1)" font-size="10" text-anchor="middle" font-weight="normal" stroke="#000" stroke-width="0.2" text-rendering="geometricPrecision">540</text>
<text transform="translate(265.60,342.25) rotate(-90)" font-size="12.5" textLength="44.23" lengthAdjust="spacingAndGlyphs" stroke="#000" stroke-width="0.45">Cumulative</text>
<text transform="translate(265.60,294.63) rotate(-90)" font-size="12.5" textLength="40.75" lengthAdjust="spacingAndGlyphs" stroke="#000" stroke-width="0.45">probability</text>
<text transform="translate(265.60,251.50) rotate(-90)" font-size="12.5" textLength="14.75" lengthAdjust="spacingAndGlyphs" stroke="#000" stroke-width="0.45">(%)</text>
<text x="343.15" y="374.60" font-size="12" textLength="19.10" lengthAdjust="spacingAndGlyphs" stroke="#000" stroke-width="0.45">Time</text>
<text x="364.85" y="374.60" font-size="12" textLength="7.80" lengthAdjust="spacingAndGlyphs" stroke="#000" stroke-width="0.45">to</text>
<text x="375.45" y="374.60" font-size="12" textLength="14.70" lengthAdjust="spacingAndGlyphs" stroke="#000" stroke-width="0.45">IgM</text>
<text x="392.95" y="374.60" font-size="12" textLength="34.00" lengthAdjust="spacingAndGlyphs" stroke="#000" stroke-width="0.45">recovery</text>
<text x="430.25" y="374.60" font-size="12" textLength="23.20" lengthAdjust="spacingAndGlyphs" stroke="#000" stroke-width="0.45">(days)</text>
<text x="402.00" y="339.50" font-size="7" textLength="100.50" lengthAdjust="spacingAndGlyphs" stroke="#000" stroke-width="0.18">Median time to recovery: day254</text>
<path d="M293.60,344.60 L325.30,344.60 L325.30,341.40 L328.80,341.40 L328.80,326.80 L339.00,326.80 L339.00,322.80 L341.10,322.80 L341.10,320.30 L353.10,320.30 L353.10,317.70 L363.60,317.70 L363.60,300.90 L371.30,300.90 L371.30,297.00 L381.20,297.00 L381.20,293.70 L383.10,293.70 L383.10,289.80 L388.80,289.80 L388.80,286.20 L392.70,286.20 L392.70,282.60 L398.90,282.60 L398.90,274.40 L400.40,274.40 L400.40,271.00 L402.00,271.00 L402.00,266.80 L423.70,266.80 L423.70,262.40 L450.80,262.40 L450.80,253.00 L457.10,253.00 L457.10,244.00 L499.40,244.00 L499.40,244.00" fill="none" stroke="#C41230" stroke-width="2" stroke-linejoin="miter" stroke-linecap="square"/>
<line x1="325.30" y1="341.40" x2="325.30" y2="339.00" stroke="#C41230" stroke-width="1.3" />
<line x1="328.80" y1="326.80" x2="328.80" y2="324.40" stroke="#C41230" stroke-width="1.3" />
<line x1="339.00" y1="322.80" x2="339.00" y2="320.40" stroke="#C41230" stroke-width="1.3" />
<line x1="341.10" y1="320.30" x2="341.10" y2="317.90" stroke="#C41230" stroke-width="1.3" />
<line x1="353.10" y1="317.70" x2="353.10" y2="315.30" stroke="#C41230" stroke-width="1.3" />
<line x1="363.60" y1="300.90" x2="363.60" y2="298.50" stroke="#C41230" stroke-width="1.3" />
<line x1="371.30" y1="297.00" x2="371.30" y2="294.60" stroke="#C41230" stroke-width="1.3" />
<line x1="381.20" y1="293.70" x2="381.20" y2="291.30" stroke="#C41230" stroke-width="1.3" />
<line x1="383.10" y1="289.80" x2="383.10" y2="287.40" stroke="#C41230" stroke-width="1.3" />
<line x1="388.80" y1="286.20" x2="388.80" y2="283.80" stroke="#C41230" stroke-width="1.3" />
<line x1="392.70" y1="282.60" x2="392.70" y2="280.20" stroke="#C41230" stroke-width="1.3" />
<line x1="398.90" y1="274.40" x2="398.90" y2="272.00" stroke="#C41230" stroke-width="1.3" />
<line x1="400.40" y1="271.00" x2="400.40" y2="268.60" stroke="#C41230" stroke-width="1.3" />
<line x1="402.00" y1="266.80" x2="402.00" y2="264.40" stroke="#C41230" stroke-width="1.3" />
<line x1="423.70" y1="262.40" x2="423.70" y2="260.00" stroke="#C41230" stroke-width="1.3" />
<line x1="450.80" y1="253.00" x2="450.80" y2="250.60" stroke="#C41230" stroke-width="1.3" />
<line x1="457.10" y1="244.00" x2="457.10" y2="241.60" stroke="#C41230" stroke-width="1.3" />
<line x1="325.30" y1="341.40" x2="325.30" y2="339.00" stroke="#C41230" stroke-width="1.2" />
<line x1="328.80" y1="326.80" x2="328.80" y2="324.40" stroke="#C41230" stroke-width="1.2" />
<line x1="331.20" y1="326.80" x2="331.20" y2="324.40" stroke="#C41230" stroke-width="1.2" />
<line x1="363.60" y1="300.90" x2="363.60" y2="298.50" stroke="#C41230" stroke-width="1.2" />
<line x1="371.30" y1="297.00" x2="371.30" y2="294.60" stroke="#C41230" stroke-width="1.2" />
<line x1="375.90" y1="297.00" x2="375.90" y2="294.60" stroke="#C41230" stroke-width="1.2" />
<line x1="383.10" y1="289.80" x2="383.10" y2="287.40" stroke="#C41230" stroke-width="1.2" />
<line x1="388.80" y1="286.20" x2="388.80" y2="283.80" stroke="#C41230" stroke-width="1.2" />
<line x1="392.70" y1="282.60" x2="392.70" y2="280.20" stroke="#C41230" stroke-width="1.2" />
<line x1="402.30" y1="266.80" x2="402.30" y2="264.40" stroke="#C41230" stroke-width="1.2" />
<line x1="407.40" y1="266.80" x2="407.40" y2="264.40" stroke="#C41230" stroke-width="1.2" />
<line x1="413.80" y1="266.80" x2="413.80" y2="264.40" stroke="#C41230" stroke-width="1.2" />
<line x1="433.80" y1="262.40" x2="433.80" y2="260.00" stroke="#C41230" stroke-width="1.2" />
<line x1="437.70" y1="262.40" x2="437.70" y2="260.00" stroke="#C41230" stroke-width="1.2" />
<line x1="444.00" y1="262.40" x2="444.00" y2="260.00" stroke="#C41230" stroke-width="1.2" />
<line x1="450.80" y1="253.00" x2="450.80" y2="250.60" stroke="#C41230" stroke-width="1.2" />
<line x1="492.00" y1="244.00" x2="492.00" y2="241.60" stroke="#C41230" stroke-width="1.2" />
<line x1="499.40" y1="244.00" x2="499.40" y2="241.60" stroke="#C41230" stroke-width="1.2" />
<path transform="translate(255.432,403.200) scale(0.007796,-0.007381)" d="M432 1181V745H1153V517H432V0H137V1409H1176V1181Z" fill="#000" stroke="#000" stroke-width="0.4" vector-effect="non-scaling-stroke"/>
<line x1="293.60" y1="415.05" x2="293.60" y2="534.15" stroke="#000" stroke-width="1.5" />
<line x1="289.10" y1="533.40" x2="293.60" y2="533.40" stroke="#000" stroke-width="1.5" />
<text transform="translate(285.80,536.70) scale(1.1,1)" font-size="10" text-anchor="end" font-weight="normal" stroke="#000" stroke-width="0.2" text-rendering="geometricPrecision">0</text>
<line x1="289.10" y1="509.88" x2="293.60" y2="509.88" stroke="#000" stroke-width="1.5" />
<text transform="translate(285.80,513.18) scale(1.1,1)" font-size="10" text-anchor="end" font-weight="normal" stroke="#000" stroke-width="0.2" text-rendering="geometricPrecision">20</text>
<line x1="289.10" y1="486.36" x2="293.60" y2="486.36" stroke="#000" stroke-width="1.5" />
<text transform="translate(285.80,489.66) scale(1.1,1)" font-size="10" text-anchor="end" font-weight="normal" stroke="#000" stroke-width="0.2" text-rendering="geometricPrecision">40</text>
<line x1="289.10" y1="462.84" x2="293.60" y2="462.84" stroke="#000" stroke-width="1.5" />
<text transform="translate(285.80,466.14) scale(1.1,1)" font-size="10" text-anchor="end" font-weight="normal" stroke="#000" stroke-width="0.2" text-rendering="geometricPrecision">60</text>
<line x1="289.10" y1="439.32" x2="293.60" y2="439.32" stroke="#000" stroke-width="1.5" />
<text transform="translate(285.80,442.62) scale(1.1,1)" font-size="10" text-anchor="end" font-weight="normal" stroke="#000" stroke-width="0.2" text-rendering="geometricPrecision">80</text>
<line x1="289.10" y1="415.80" x2="293.60" y2="415.80" stroke="#000" stroke-width="1.5" />
<text transform="translate(285.80,419.10) scale(1.1,1)" font-size="10" text-anchor="end" font-weight="normal" stroke="#000" stroke-width="0.2" text-rendering="geometricPrecision">100</text>
<line x1="292.85" y1="533.40" x2="501.35" y2="533.40" stroke="#000" stroke-width="1.5" />
<line x1="293.60" y1="533.40" x2="293.60" y2="537.90" stroke="#000" stroke-width="1.5" />
<text transform="translate(293.60,549.90) scale(1.1,1)" font-size="10" text-anchor="middle" font-weight="normal" stroke="#000" stroke-width="0.2" text-rendering="geometricPrecision">0</text>
<line x1="328.10" y1="533.40" x2="328.10" y2="537.90" stroke="#000" stroke-width="1.5" />
<text transform="translate(328.10,549.90) scale(1.1,1)" font-size="10" text-anchor="middle" font-weight="normal" stroke="#000" stroke-width="0.2" text-rendering="geometricPrecision">90</text>
<line x1="362.60" y1="533.40" x2="362.60" y2="537.90" stroke="#000" stroke-width="1.5" />
<text transform="translate(363.20,549.90) scale(1.1,1)" font-size="10" text-anchor="middle" font-weight="normal" stroke="#000" stroke-width="0.2" text-rendering="geometricPrecision">180</text>
<line x1="397.10" y1="533.40" x2="397.10" y2="537.90" stroke="#000" stroke-width="1.5" />
<text transform="translate(397.80,549.90) scale(1.1,1)" font-size="10" text-anchor="middle" font-weight="normal" stroke="#000" stroke-width="0.2" text-rendering="geometricPrecision">270</text>
<line x1="431.60" y1="533.40" x2="431.60" y2="537.90" stroke="#000" stroke-width="1.5" />
<text transform="translate(432.60,549.90) scale(1.1,1)" font-size="10" text-anchor="middle" font-weight="normal" stroke="#000" stroke-width="0.2" text-rendering="geometricPrecision">360</text>
<line x1="466.10" y1="533.40" x2="466.10" y2="537.90" stroke="#000" stroke-width="1.5" />
<text transform="translate(468.40,549.90) scale(1.1,1)" font-size="10" text-anchor="middle" font-weight="normal" stroke="#000" stroke-width="0.2" text-rendering="geometricPrecision">450</text>
<line x1="500.60" y1="533.40" x2="500.60" y2="537.90" stroke="#000" stroke-width="1.5" />
<text transform="translate(500.90,549.90) scale(1.1,1)" font-size="10" text-anchor="middle" font-weight="normal" stroke="#000" stroke-width="0.2" text-rendering="geometricPrecision">540</text>
<text transform="translate(265.60,522.95) rotate(-90)" font-size="12.5" textLength="44.11" lengthAdjust="spacingAndGlyphs" stroke="#000" stroke-width="0.45">Cumulative</text>
<text transform="translate(265.60,475.47) rotate(-90)" font-size="12.5" textLength="40.63" lengthAdjust="spacingAndGlyphs" stroke="#000" stroke-width="0.45">probability</text>
<text transform="translate(265.60,432.46) rotate(-90)" font-size="12.5" textLength="14.71" lengthAdjust="spacingAndGlyphs" stroke="#000" stroke-width="0.45">(%)</text>
<text x="342.55" y="566.00" font-size="12" textLength="19.10" lengthAdjust="spacingAndGlyphs" stroke="#000" stroke-width="0.45">Time</text>
<text x="364.45" y="566.00" font-size="12" textLength="7.60" lengthAdjust="spacingAndGlyphs" stroke="#000" stroke-width="0.45">to</text>
<text x="374.85" y="566.00" font-size="12" textLength="13.70" lengthAdjust="spacingAndGlyphs" stroke="#000" stroke-width="0.45">IgA</text>
<text x="390.95" y="566.00" font-size="12" textLength="32.20" lengthAdjust="spacingAndGlyphs" stroke="#000" stroke-width="0.45">recovery</text>
<text x="427.15" y="566.00" font-size="12" textLength="24.00" lengthAdjust="spacingAndGlyphs" stroke="#000" stroke-width="0.45">(days)</text>
<text x="399.30" y="528.60" font-size="7" textLength="110.60" lengthAdjust="spacingAndGlyphs" stroke="#000" stroke-width="0.18">Median time to recovery: not reached</text>
<path d="M293.60,533.40 L362.40,533.40 L362.40,524.80 L396.50,524.80 L396.50,519.50 L407.20,519.50 L407.20,514.40 L431.80,514.40 L431.80,508.30 L466.00,508.30 L466.00,496.60 L498.00,496.60 L498.00,496.60" fill="none" stroke="#C41230" stroke-width="2" stroke-linejoin="miter" stroke-linecap="square"/>
<line x1="362.40" y1="524.80" x2="362.40" y2="522.40" stroke="#C41230" stroke-width="1.3" />
<line x1="396.50" y1="519.50" x2="396.50" y2="517.10" stroke="#C41230" stroke-width="1.3" />
<line x1="407.20" y1="514.40" x2="407.20" y2="512.00" stroke="#C41230" stroke-width="1.3" />
<line x1="431.80" y1="508.30" x2="431.80" y2="505.90" stroke="#C41230" stroke-width="1.3" />
<line x1="466.00" y1="496.60" x2="466.00" y2="494.20" stroke="#C41230" stroke-width="1.3" />
<line x1="331.00" y1="533.40" x2="331.00" y2="531.00" stroke="#C41230" stroke-width="1.2" />
<line x1="373.40" y1="524.80" x2="373.40" y2="522.40" stroke="#C41230" stroke-width="1.2" />
<line x1="378.80" y1="524.80" x2="378.80" y2="522.40" stroke="#C41230" stroke-width="1.2" />
<line x1="384.50" y1="524.80" x2="384.50" y2="522.40" stroke="#C41230" stroke-width="1.2" />
<line x1="396.50" y1="519.50" x2="396.50" y2="517.10" stroke="#C41230" stroke-width="1.2" />
<line x1="407.20" y1="514.40" x2="407.20" y2="512.00" stroke="#C41230" stroke-width="1.2" />
<line x1="411.90" y1="514.40" x2="411.90" y2="512.00" stroke="#C41230" stroke-width="1.2" />
<line x1="422.70" y1="514.40" x2="422.70" y2="512.00" stroke="#C41230" stroke-width="1.2" />
<line x1="431.80" y1="508.30" x2="431.80" y2="505.90" stroke="#C41230" stroke-width="1.2" />
<line x1="434.20" y1="508.30" x2="434.20" y2="505.90" stroke="#C41230" stroke-width="1.2" />
<line x1="438.90" y1="508.30" x2="438.90" y2="505.90" stroke="#C41230" stroke-width="1.2" />
<line x1="443.80" y1="508.30" x2="443.80" y2="505.90" stroke="#C41230" stroke-width="1.2" />
<line x1="446.40" y1="508.30" x2="446.40" y2="505.90" stroke="#C41230" stroke-width="1.2" />
<line x1="448.20" y1="508.30" x2="448.20" y2="505.90" stroke="#C41230" stroke-width="1.2" />
<line x1="467.20" y1="496.60" x2="467.20" y2="494.20" stroke="#C41230" stroke-width="1.2" />
<line x1="469.40" y1="496.60" x2="469.40" y2="494.20" stroke="#C41230" stroke-width="1.2" />
<line x1="489.70" y1="496.60" x2="489.70" y2="494.20" stroke="#C41230" stroke-width="1.2" />
<line x1="494.40" y1="496.60" x2="494.40" y2="494.20" stroke="#C41230" stroke-width="1.2" />
<line x1="496.60" y1="496.60" x2="496.60" y2="494.20" stroke="#C41230" stroke-width="1.2" />
<path d="M0,0H520V577H0Z M2,2V574.8H517.7V2Z" fill="#000" fill-rule="evenodd"/>
</svg></body></html>
